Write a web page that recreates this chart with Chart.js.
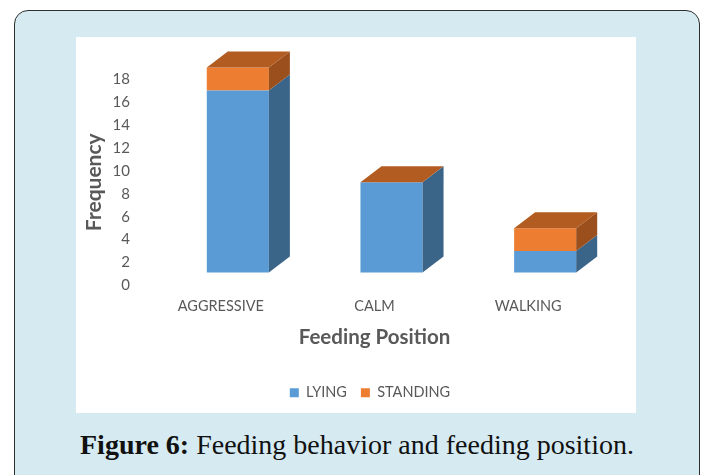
<!DOCTYPE html>
<html>
<head>
<meta charset="utf-8">
<script src="https://cdn.jsdelivr.net/npm/chart.js@4/dist/chart.umd.min.js"></script>
<style>
  html, body { margin: 0; padding: 0; background: #fff; overflow: hidden; }
  body { width: 701px; height: 475px; position: relative; }
  #panel {
    position: absolute; left: 14px; top: 10px; width: 686px; height: 480px;
    background: #d6ebf1; border: 1.5px solid #2e2e2e; border-radius: 14px; box-sizing: border-box;
  }
  #box { position: absolute; left: 76px; top: 37px; width: 560px; height: 376px; background: #fff; }
  #caption {
    position: absolute; left: 80px; top: 429px; white-space: nowrap; color: #111;
    font: 28px "Liberation Serif", serif;
  }
</style>
</head>
<body>
<div id="panel"></div>
<div id="box"><canvas id="chart" width="560" height="376"></canvas></div>
<div id="caption"><b>Figure 6:</b> Feeding behavior and feeding position.</div>
<script>
const categories = ["AGGRESSIVE", "CALM", "WALKING"];
const lying = [17, 9, 3];
const standing = [2, 0, 2];
const yTicks = [0, 2, 4, 6, 8, 10, 12, 14, 16, 18];
const barFloor = 1.14; // the 3D floor sits a little above the zero label

const textColor = "#595959";
const fontFamily = "Lato, 'Noto Sans', sans-serif";

function face(ctx, pts, color) {
  ctx.fillStyle = color;
  ctx.beginPath();
  pts.forEach((p, i) => (i ? ctx.lineTo(p[0], p[1]) : ctx.moveTo(p[0], p[1])));
  ctx.closePath();
  ctx.fill();
}

// side and top faces of the 3D columns, hung off the real bar elements
const columnFaces = {
  id: "columnFaces",
  afterDatasetsDraw(chart) {
    const { ctx } = chart;
    const dx = 21, dy = -16;
    chart.data.datasets.forEach((ds, d) => {
      chart.getDatasetMeta(d).data.forEach((bar) => {
        const right = bar.x + bar.width / 2;
        const left = bar.x - bar.width / 2;
        if (bar.base - bar.y > 0.5) {
          face(ctx, [[right, bar.y], [right + dx, bar.y + dy], [right + dx, bar.base + dy], [right, bar.base]], ds.sideColor);
        }
        if (ds.hasTop) {
          face(ctx, [[left, bar.y], [left + dx, bar.y + dy], [right + dx, bar.y + dy], [right, bar.y]], ds.topColor);
        }
      });
    });
  },
};

// the x title and the legend sit off-centre in the original
const nudgeLabels = {
  id: "nudgeLabels",
  afterLayout(chart) {
    const xScale = chart.scales.x;
    const drawTitle = xScale.drawTitle;
    xScale.drawTitle = function () {
      chart.ctx.save();
      chart.ctx.translate(-17, 0);
      drawTitle.call(this);
      chart.ctx.restore();
    };
    chart.legend.left += 21;
    chart.legend.right += 21;
  },
};

new Chart(document.getElementById("chart"), {
  type: "bar",
  data: {
    labels: categories,
    datasets: [
      {
        label: "LYING",
        data: lying.map((v) => [barFloor, v]),
        backgroundColor: "#5b9bd5",
        sideColor: "#3a6488",
        clip: false,
      },
      {
        label: "STANDING",
        data: standing.map((v, i) => [lying[i], lying[i] + v]),
        backgroundColor: "#ed7d31",
        sideColor: "#9a4f1c",
        topColor: "#b25c21",
        hasTop: true,
        clip: false,
      },
    ],
  },
  plugins: [columnFaces, nudgeLabels],
  options: {
    responsive: false,
    animation: false,
    events: [],
    grouped: false,
    barPercentage: 0.404,
    categoryPercentage: 1,
    layout: { padding: { left: 0, right: 14, top: 42, bottom: 3 } },
    plugins: {
      tooltip: { enabled: false },
      legend: {
        position: "bottom",
        labels: { boxWidth: 9, boxHeight: 9, padding: 14, color: textColor, font: { family: fontFamily, size: 14.5 } },
      },
    },
    scales: {
      x: {
        grid: { display: false },
        border: { display: false },
        ticks: { color: textColor, labelOffset: -17, padding: 4, maxRotation: 0, font: { family: fontFamily, size: 14.5 } },
        title: { display: true, text: "Feeding Position", color: textColor, padding: { top: 6, bottom: 22 }, font: { family: fontFamily, size: 20.5, weight: "bold" } },
      },
      y: {
        min: 0,
        max: 18,
        grid: { display: false },
        border: { display: false },
        afterBuildTicks(scale) { scale.ticks = yTicks.map((value) => ({ value })); },
        afterFit(scale) { scale.width = 85; },
        ticks: { color: textColor, padding: 23, font: { family: fontFamily, size: 15 } },
        title: { display: true, text: "Frequency", color: textColor, padding: { top: 6, bottom: 0 }, font: { family: fontFamily, size: 21, weight: "bold" } },
      },
    },
  },
});
</script>
</body>
</html>
